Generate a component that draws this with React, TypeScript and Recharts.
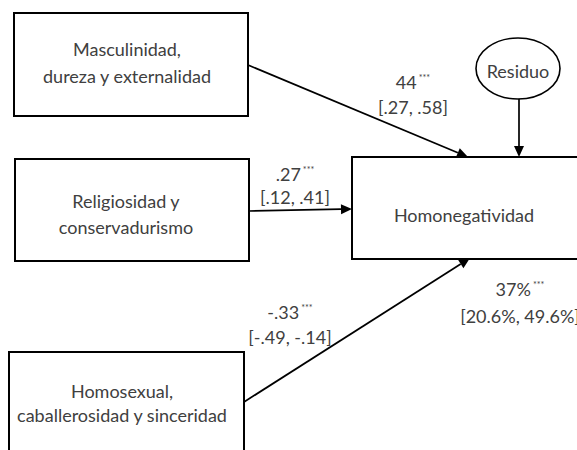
import {
  ComposedChart,
  XAxis,
  YAxis,
  ReferenceArea,
  ReferenceLine,
  Scatter,
} from "recharts";

// path model: predictors -> Homonegatividad
const predictors = [
  ["Masculinidad,", "dureza y externalidad"],
  ["Religiosidad y", "conservadurismo"],
  ["Homosexual,", "caballerosidad y sinceridad"],
];
const outcome = "Homonegatividad";
const residual = "Residuo";
const coefficients = ["44", ".27", "-.33"];
const significance = ["***", "***", "***"];
const intervals = ["[.27, .58]", "[.12, .41]", "[-.49, -.14]"];
const explained = "37%";
const explainedSig = "***";
const explainedCi = "[20.6%, 49.6%]";

// layout in page units (x: 0-577, y: 0-450 top down)
const predictorBoxes = [
  { x1: 14, x2: 248, y1: 13, y2: 116 },
  { x1: 15, x2: 249, y1: 159, y2: 261 },
  { x1: 9, x2: 244, y1: 352, y2: 458 },
];
const outcomeBox = { x1: 352, x2: 580, y1: 157, y2: 259 };
const residualBox = { x1: 476, x2: 560, y1: 38, y2: 99 };
const predictorTextPos = [
  { x: 127, y: [50, 77] },
  { x: 126, y: [202, 228] },
  { x: 122, y: [392, 416] },
];
const paths = [
  [{ x: 248, y: 65 }, { x: 468, y: 157 }],
  [{ x: 249, y: 211 }, { x: 352, y: 209 }],
  [{ x: 244, y: 402 }, { x: 470, y: 258 }],
  [{ x: 519, y: 99 }, { x: 519, y: 157 }],
];
const coefPos = [
  { x: 413, y: [83, 108] },
  { x: 295, y: [175, 198] },
  { x: 290, y: [313, 338] },
];
const explainedPos = { x: 520, y: [290, 317] };

const TEXT = "#404040";
const FONT = "Lato, 'Open Sans', sans-serif";

const labels: { x: number; y: number; text: string; sup?: string }[] = [];
predictors.forEach((lines, i) =>
  lines.forEach((t, j) =>
    labels.push({ x: predictorTextPos[i].x, y: predictorTextPos[i].y[j], text: t })
  )
);
coefficients.forEach((c, i) => {
  labels.push({ x: coefPos[i].x, y: coefPos[i].y[0], text: c, sup: significance[i] });
  labels.push({ x: coefPos[i].x, y: coefPos[i].y[1], text: intervals[i] });
});
labels.push({ x: explainedPos.x, y: explainedPos.y[0], text: explained, sup: explainedSig });
labels.push({ x: explainedPos.x, y: explainedPos.y[1], text: explainedCi });
labels.push({ x: 464, y: 216, text: outcome });
labels.push({ x: 518, y: 72, text: residual });

const renderLabel = (p: any) => {
  const { cx, cy, payload } = p;
  return (
    <text
      x={cx}
      y={cy}
      dy="0.35em"
      textAnchor="middle"
      fontFamily={FONT}
      fontSize={18}
      fill={TEXT}
    >
      {payload.text}
      {payload.sup && (
        <tspan fontSize={9} dy={-8} dx={2}>
          {payload.sup}
        </tspan>
      )}
    </text>
  );
};

const Arrow = (p: any) => {
  const { x1, y1, x2, y2 } = p;
  const a = Math.atan2(y2 - y1, x2 - x1);
  const len = 11;
  const w = 5;
  const bx = x2 - len * Math.cos(a);
  const by = y2 - len * Math.sin(a);
  const nx = -Math.sin(a) * w;
  const ny = Math.cos(a) * w;
  return (
    <g>
      <line x1={x1} y1={y1} x2={bx} y2={by} stroke="#000" strokeWidth={1.7} />
      <polygon
        points={`${x2},${y2} ${bx + nx},${by + ny} ${bx - nx},${by - ny}`}
        fill="#000"
      />
    </g>
  );
};

const Ellipse = (p: any) => {
  const { x, y, width, height } = p;
  return (
    <ellipse
      cx={x + width / 2}
      cy={y + height / 2}
      rx={width / 2}
      ry={height / 2}
      fill="#fff"
      stroke="#000"
      strokeWidth={1.6}
    />
  );
};

export default function App() {
  return (
    <div style={{ position: "absolute", left: 0, top: 0, background: "#fff" }}>
      <ComposedChart width={577} height={450} margin={{ top: 0, right: 0, bottom: 0, left: 0 }}>
        <XAxis type="number" dataKey="x" domain={[0, 577]} hide allowDataOverflow />
        <YAxis type="number" dataKey="y" domain={[0, 450]} reversed hide allowDataOverflow />
        {predictorBoxes.map((b, i) => (
          <ReferenceArea
            key={i}
            {...b}
            ifOverflow="hidden"
            fill="#fff"
            fillOpacity={1}
            stroke="#000"
            strokeWidth={2}
          />
        ))}
        <ReferenceArea
          {...outcomeBox}
          ifOverflow="hidden"
          fill="#fff"
          fillOpacity={1}
          stroke="#000"
          strokeWidth={2}
        />
        <ReferenceArea {...residualBox} ifOverflow="visible" shape={Ellipse} />
        {paths.map((s, i) => (
          <ReferenceLine key={i} segment={s} ifOverflow="visible" shape={Arrow} />
        ))}
        <Scatter data={labels} shape={renderLabel} isAnimationActive={false} />
      </ComposedChart>
    </div>
  );
}
